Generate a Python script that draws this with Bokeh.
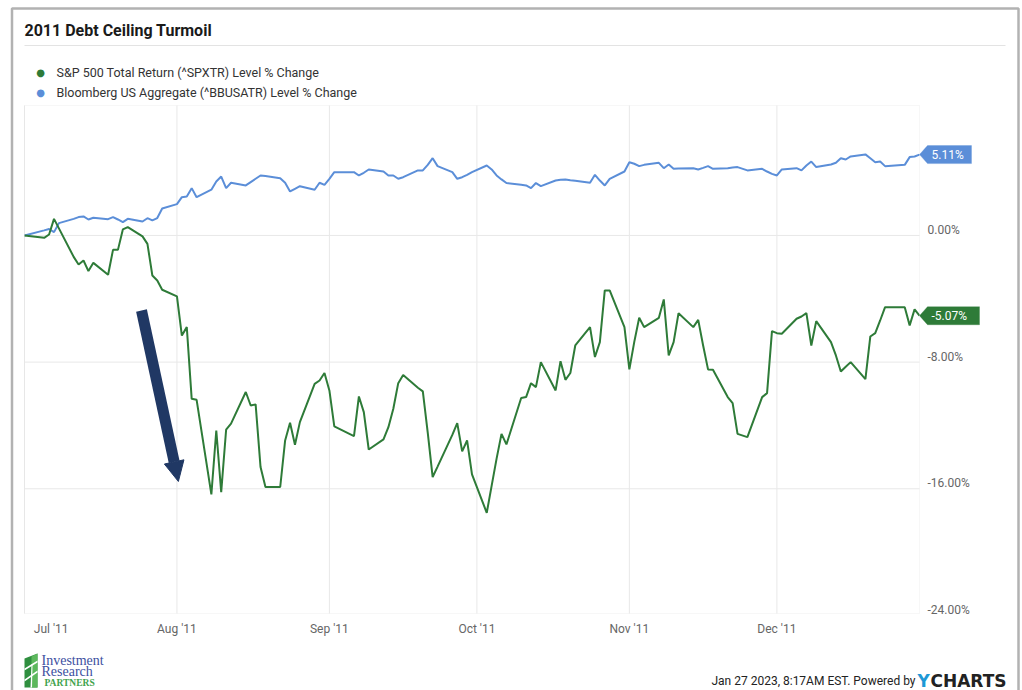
import pandas as pd
from bokeh.plotting import figure
from bokeh.models import Range1d, Label, PolyAnnotation, Arrow, NormalHead
from bokeh.embed import file_html
from bokeh.resources import INLINE

# ---------------------------------------------------------------- data
HOLIDAYS = ["2011-07-04", "2011-09-05", "2011-11-24", "2011-12-26"]
trade_days = pd.bdate_range("2011-07-01", "2011-12-30")
trade_days = trade_days[~trade_days.isin(pd.to_datetime(HOLIDAYS))]

SPX_NAME = "S&P 500 Total Return (^SPXTR) Level % Change"
AGG_NAME = "Bloomberg US Aggregate (^BBUSATR) Level % Change"

spx_jul = [0.0, -0.15, 0.06, 1.05, 0.45, -1.35, -1.83, -1.58, -2.25, -1.73,
           -2.48, -0.91, -0.91, 0.38, 0.53, -0.06, -0.53, -2.53, -2.84, -3.43]
spx_aug = [-3.85, -6.32, -5.79, -10.32, -10.38, -16.36, -12.32, -16.21, -12.27, -11.89,
           -9.89, -10.74, -10.67, -14.63, -15.89, -15.89, -12.95, -11.83, -13.22, -11.79,
           -9.37, -9.16, -8.69]
spx_sep = [-9.79, -12.06, -12.67, -10.17, -11.16, -13.52, -12.88, -12.11, -10.95, -9.33,
           -8.82, -9.62, -9.85, -12.46, -15.26, -14.6, -12.6, -11.85, -13.64, -12.95, -15.09]
spx_oct = [-17.52, -15.8, -14.1, -12.53, -13.2, -10.27, -10.21, -9.33, -9.58, -8.0,
           -9.79, -7.94, -9.12, -8.69, -6.95, -5.79, -7.68, -6.74, -3.47, -3.47, -5.79]
spx_nov = [-8.46, -6.72, -5.2, -5.79, -5.2, -4.04, -7.58, -6.74, -4.91, -5.79,
           -5.33, -6.95, -8.46, -8.48, -10.21, -10.59, -12.53, -12.74, -10.21, -9.96, -6.04]
spx_dec = [-6.17, -6.21, -5.26, -5.12, -4.91, -6.95, -5.41, -6.74, -7.58, -8.59,
           -8.29, -8.0, -9.07, -6.38, -6.17, -5.37, -4.53, -4.53, -5.68, -4.67, -5.07]

agg_jul = [0.0, 0.32, 0.41, 0.21, 0.78, 1.05, 1.16, 1.2, 1.01, 1.12,
           1.03, 1.16, 1.01, 0.84, 1.05, 0.88, 1.09, 0.95, 1.1, 1.7]
agg_aug = [1.98, 2.42, 2.46, 2.99, 2.42, 2.89, 3.41, 3.72, 2.99, 3.33,
           3.16, 3.37, 3.58, 3.79, 3.75, 3.62, 3.33, 2.78, 2.95, 3.11, 2.89, 3.33, 3.2]
agg_sep = [3.58, 4.0, 4.0, 3.79, 3.96, 4.17, 4.04, 3.79, 3.79, 3.58,
           3.68, 4.11, 4.11, 4.46, 4.88, 4.38, 4.0, 3.58, 3.68, 3.83, 4.0]
agg_oct = [4.42, 4.17, 3.79, 3.54, 3.31, 3.2, 3.16, 2.99, 3.31, 3.12,
           3.47, 3.52, 3.54, 3.49, 3.45, 3.33, 3.83, 3.47, 3.16, 3.58, 4.04]
agg_nov = [4.63, 4.53, 4.38, 4.46, 4.59, 4.25, 4.48, 4.21, 4.23, 4.25,
           4.17, 4.27, 4.38, 4.21, 4.25, 4.29, 4.32, 4.11, 4.21, 4.04, 3.89]
agg_dec = [3.79, 4.17, 4.25, 4.11, 4.42, 4.67, 4.32, 4.48, 4.59, 4.88,
           4.8, 4.99, 5.12, 4.88, 4.63, 4.67, 4.38, 4.46, 4.95, 4.99, 5.11]

spx_pct = spx_jul + spx_aug + spx_sep + spx_oct + spx_nov + spx_dec
agg_pct = agg_jul + agg_aug + agg_sep + agg_oct + agg_nov + agg_dec

MONTH_STARTS = ["2011-07-01", "2011-08-01", "2011-09-01", "2011-10-01", "2011-11-01", "2011-12-01"]
MONTH_LABEL_AT = ["2011-07-06 10:00", "2011-08-01", "2011-09-01", "2011-10-01", "2011-11-01", "2011-12-01"]
MONTH_LABELS = ["Jul '11", "Aug '11", "Sep '11", "Oct '11", "Nov '11", "Dec '11"]
Y_TICKS = [0, -8, -16, -24]
Y_GRID = [0, -8, -16]

# ---------------------------------------------------------------- style
GREEN = "#2e7b38"
BLUE = "#5b8ed8"
NAVY = "#203864"
GRID = "#e8e8e8"
EDGE = "#e3e3e3"
W, H = 1022, 690
PX_L, PX_T, PX_R, PX_B = 24, 105, 919, 613    # plotting box on the page
X_FIRST, X_LAST = "2011-07-01", "2011-12-30"
Y_LO, Y_HI = -23.88, 8.21
LABEL_LIFT = 0.35                               # y labels sit a little above their grid lines


def ms(t):
    return pd.Timestamp(t).value // 10**6


# data ranges stretched so the plotting box lands where it should on the page
x0, x1 = ms(X_FIRST), ms(X_LAST)
kx = (x1 - x0) / (PX_R - PX_L)
ky = (Y_HI - Y_LO) / (PX_B - PX_T)
x_range = Range1d(x0 - PX_L * kx, x1 + (W - PX_R) * kx)
y_range = Range1d(Y_LO - (H - PX_B) * ky, Y_HI + PX_T * ky)

p = figure(width=W, height=H, x_range=x_range, y_range=y_range, title=None,
           x_axis_location=None, y_axis_location=None,
           output_backend="svg", toolbar_location=None,
           min_border=0, min_border_left=0, min_border_right=0, min_border_top=0, min_border_bottom=0,
           background_fill_color="white", border_fill_color="white", outline_line_color=None)
p.grid.visible = False

# grid lines, kept inside the plotting box
month_ms = [ms(t) for t in MONTH_STARTS]
p.segment(x0=month_ms, y0=Y_LO, x1=month_ms, y1=Y_HI, line_color=GRID, line_width=1)
p.segment(x0=x0, y0=Y_GRID, x1=x1, y1=Y_GRID, line_color=GRID, line_width=1)
p.add_layout(PolyAnnotation(xs=[x0, x1, x1, x0], ys=[Y_LO, Y_LO, Y_HI, Y_HI],
                            fill_alpha=0, line_color=EDGE, line_width=1))

# series
p.line(trade_days, agg_pct, line_color=BLUE, line_width=2)
p.line(trade_days, spx_pct, line_color=GREEN, line_width=2)

# the sell-off arrow
ARROW_TAIL = ("2011-07-24 19:00", -4.74)
ARROW_TIP = ("2011-08-01 07:00", -15.54)
p.add_layout(Arrow(x_start=ms(ARROW_TAIL[0]), y_start=ARROW_TAIL[1],
                   x_end=ms(ARROW_TIP[0]), y_end=ARROW_TIP[1],
                   line_color=NAVY, line_width=11, line_cap="butt",
                   end=NormalHead(size=20, fill_color=NAVY, line_color=NAVY, line_width=1)))

# tick labels
for t, txt in zip(MONTH_LABEL_AT, MONTH_LABELS):
    p.add_layout(Label(x=ms(t), y=PX_B + 15, x_units="data", y_units="canvas", text=txt,
                       text_font="Roboto", text_font_size="12px", text_color="#666666",
                       text_align="center", text_baseline="middle"))
for v in Y_TICKS:
    p.add_layout(Label(x=PX_R + 8, y=v + LABEL_LIFT, x_units="canvas", y_units="data",
                       text=f"{v:.2f}%", text_font="Roboto", text_font_size="12px",
                       text_color="#666666", text_align="left", text_baseline="middle"))

# last-value badges at the right edge
BADGE_HALF = 0.57
for series, col, right in [(agg_pct, BLUE, 971), (spx_pct, GREEN, 979)]:
    v = series[-1]
    p.add_layout(PolyAnnotation(xs=[PX_R, PX_R + 8, right, right, PX_R + 8],
                                ys=[v, v + BADGE_HALF, v + BADGE_HALF, v - BADGE_HALF, v - BADGE_HALF],
                                xs_units="canvas", ys_units="data",
                                fill_color=col, fill_alpha=1, line_color=col, line_width=1))
    p.add_layout(Label(x=PX_R + 12, y=v, x_units="canvas", y_units="data", text=f"{v:.2f}%",
                       text_font="Roboto", text_font_size="12px", text_color="white",
                       text_baseline="middle"))


# ---------------------------------------------------------------- page furniture
def page_text(cx, cy, text, size="13px", color="#333333", font="Roboto", style="normal", align="left"):
    p.add_layout(Label(x=cx, y=cy, x_units="canvas", y_units="canvas", text=text,
                       text_font=font, text_font_size=size, text_color=color,
                       text_font_style=style, text_align=align, text_baseline="middle"))


def page_poly(pts, fill, line=None, width=1.0):
    p.add_layout(PolyAnnotation(xs=[x for x, _ in pts], ys=[y for _, y in pts],
                                xs_units="canvas", ys_units="canvas",
                                fill_color=fill, fill_alpha=0 if fill is None else 1,
                                line_color=line, line_width=width))


# card outline and header rule
page_poly([(11.5, 720), (11.5, 8), (1018, 8), (1018, 720)], None, line="#000000", width=2.5)
page_poly([(24, 44.5), (1005, 44.5), (1005, 45.5), (24, 45.5)], EDGE)

page_text(24, 30, "2011 Debt Ceiling Turmoil", size="16px", color="#1a1a1a", style="bold")

# legend
for cy, name, col in [(72, SPX_NAME, GREEN), (92, AGG_NAME, BLUE)]:
    page_text(40, cy, "\u25cf", size="10px", color=col, font="DejaVu Sans", align="center")
    page_text(56, cy, name, size="12.5px", color="#333333")

# footer: logo and timestamp
page_poly([(24, 658), (37, 653), (37, 687), (24, 687)], "#2f8f3f")
page_poly([(37, 653), (37, 687), (31, 687), (31, 656)], "#5cb85c")
page_poly([(24, 668), (37, 660), (37, 662), (24, 670)], "white")
page_poly([(24, 679), (37, 670), (37, 672), (24, 681)], "white")
page_poly([(30, 687), (31, 664), (32, 664), (31.5, 687)], "white")
page_text(41, 660, "Investment", size="14px", color="#3d4f9f", font="Liberation Serif")
page_text(41, 671, "Research", size="14px", color="#3d4f9f", font="Liberation Serif")
page_text(44, 682, "PARTNERS", size="9.5px", color="#3fa34d", font="Liberation Serif", style="bold")

page_text(915, 680, "Jan 27 2023, 8:17AM EST. Powered by", size="12px", color="#222222", align="right")
page_text(917, 680, "Y", size="17px", color="#1e98d6", font="DejaVu Sans", style="bold")
page_text(930, 680, "CHARTS", size="17px", color="#222222", font="DejaVu Sans", style="bold")

open("out.html", "w").write(file_html(p, INLINE))
